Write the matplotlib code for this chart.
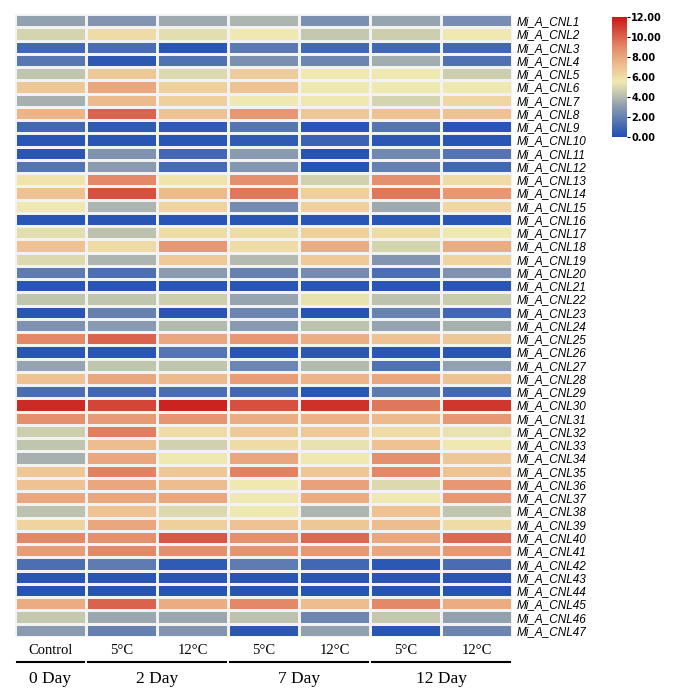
import numpy as np
import matplotlib
matplotlib.use("Agg")
import matplotlib.pyplot as plt
from matplotlib.colors import LinearSegmentedColormap

genes = [f"Mi_A_CNL{i}" for i in range(1, 48)]
conditions = ["Control", "5°C", "12°C", "5°C", "12°C", "5°C", "12°C"]
days = ["0 Day", "2 Day", "7 Day", "12 Day"]

values = [
    [3.2, 2.8, 3.5, 3.8, 2.6, 3.3, 2.5],
    [4.8, 6.0, 5.2, 5.5, 4.4, 4.6, 5.5],
    [1.0, 1.2, 0.3, 1.7, 1.0, 1.0, 1.0],
    [1.6, 0.4, 1.4, 2.6, 2.2, 3.6, 1.4],
    [4.3, 6.8, 5.0, 6.6, 5.5, 5.5, 4.6],
    [6.8, 8.0, 6.5, 7.0, 5.5, 5.5, 5.5],
    [3.7, 7.3, 6.5, 5.5, 5.5, 4.8, 6.2],
    [7.5, 10.0, 7.0, 8.5, 6.8, 7.0, 7.0],
    [1.0, 0.5, 0.5, 1.5, 0.3, 1.5, 0.3],
    [0.3, 0.3, 0.3, 0.5, 0.8, 0.4, 0.3],
    [0.3, 2.7, 1.0, 3.0, 0.2, 2.3, 1.5],
    [1.5, 3.0, 1.1, 2.9, 0.2, 2.0, 1.0],
    [5.7, 9.0, 5.7, 8.8, 4.7, 8.8, 6.0],
    [7.0, 10.5, 7.3, 9.5, 6.5, 9.5, 8.5],
    [5.5, 3.8, 6.3, 2.4, 6.5, 3.5, 6.2],
    [0.3, 0.3, 0.3, 0.3, 0.3, 0.3, 0.3],
    [5.2, 4.2, 6.0, 6.0, 6.5, 6.0, 5.5],
    [7.0, 6.0, 8.5, 6.0, 7.8, 4.8, 7.8],
    [5.0, 3.8, 6.7, 4.0, 6.7, 2.8, 6.3],
    [1.8, 1.3, 3.0, 2.0, 2.4, 1.3, 2.7],
    [0.3, 0.3, 0.3, 0.3, 0.3, 0.3, 0.3],
    [4.3, 4.3, 4.6, 3.3, 5.3, 4.2, 4.5],
    [0.3, 2.0, 0.3, 2.2, 0.2, 2.1, 1.0],
    [2.7, 3.0, 4.0, 3.0, 4.2, 3.3, 3.7],
    [9.0, 10.0, 8.0, 8.5, 7.7, 7.0, 6.8],
    [0.3, 0.3, 1.5, 0.3, 0.4, 0.3, 0.3],
    [3.3, 4.3, 4.3, 2.2, 4.0, 1.4, 3.2],
    [7.0, 8.0, 7.3, 8.3, 7.5, 8.0, 7.0],
    [1.3, 1.0, 1.3, 1.0, 0.3, 1.8, 1.0],
    [11.5, 10.8, 11.7, 10.5, 11.3, 9.5, 11.2],
    [8.8, 8.4, 8.6, 7.8, 7.6, 7.3, 8.5],
    [4.6, 9.3, 6.0, 6.7, 6.7, 6.0, 5.3],
    [4.3, 7.2, 4.7, 6.0, 5.3, 7.0, 5.5],
    [3.7, 8.0, 5.5, 8.0, 5.5, 8.8, 6.8],
    [6.8, 9.2, 6.8, 9.2, 6.8, 9.0, 7.0],
    [7.0, 8.0, 7.2, 5.5, 8.2, 5.0, 8.5],
    [8.0, 8.0, 8.0, 5.5, 7.8, 5.5, 8.5],
    [4.2, 7.0, 5.0, 5.5, 3.8, 7.0, 4.3],
    [6.3, 8.0, 6.5, 7.0, 6.8, 7.2, 6.0],
    [9.0, 8.8, 10.3, 8.8, 9.8, 8.0, 9.8],
    [8.3, 9.0, 8.8, 8.6, 8.5, 8.0, 8.5],
    [1.3, 1.8, 0.5, 1.8, 1.0, 0.4, 1.2],
    [0.3, 0.3, 0.3, 0.3, 0.3, 0.3, 0.3],
    [0.2, 0.2, 0.2, 0.2, 0.2, 0.2, 0.2],
    [7.8, 10.0, 7.8, 9.0, 7.2, 9.0, 7.8],
    [4.4, 3.4, 3.4, 4.2, 2.2, 4.4, 3.2],
    [3.0, 2.0, 2.8, 0.4, 3.2, 0.3, 2.2],
]

data = np.array(values)

cmap = LinearSegmentedColormap.from_list("bgyr", [
    (0.0, "#1f4fb4"), (0.25, "#8a9ab0"), (0.36, "#c2c6ae"),
    (0.46, "#f0e8b0"), (0.6, "#eebd8e"), (0.75, "#e48a68"), (1.0, "#c81818")])

fig = plt.figure(figsize=(6.8, 6.9), dpi=100)
W, H = 680, 690
ax = fig.add_axes([15 / W, 1 - 637 / H, (512 - 15) / W, (637 - 14) / H])
mesh = ax.pcolormesh(data, cmap=cmap, vmin=0, vmax=12, edgecolors="#f2f2f2", linewidth=0.8)
ax.set_xlim(0, 7)
ax.set_ylim(len(genes), 0)
ax.set_xticks([])
ax.set_yticks(np.arange(len(genes)) + 0.5)
ax.set_yticklabels(genes, fontsize=8.5, style="italic", family="Liberation Sans")
ax.yaxis.tick_right()
ax.tick_params(axis="y", length=0, pad=3)
for s in ax.spines.values():
    s.set_visible(False)

# condition labels and day groups
for i, c in enumerate(conditions):
    ax.text(i + 0.5, 47.5, c, ha="center", va="top", fontsize=10.5, family="Liberation Serif")
groups = [(0, 1), (1, 3), (3, 5), (5, 7)]
for (a, b), d in zip(groups, days):
    ax.plot([a + 0.03, b - 0.03], [48.9, 48.9], color="black", lw=1.5, clip_on=False)
    ax.text((a + b) / 2, 49.6, d, ha="center", va="top", fontsize=12.5, family="Liberation Serif")

cax = fig.add_axes([612 / W, 1 - 137 / H, 15 / W, 120 / H])
cb = fig.colorbar(mesh, cax=cax, ticks=[0, 2, 4, 6, 8, 10, 12])
cb.ax.set_yticklabels([f"{t:.2f}" for t in range(0, 13, 2)], fontsize=7, fontweight="bold")
cb.outline.set_visible(False)
cb.ax.tick_params(length=2, pad=1)

fig.savefig("out.png", dpi=100)
